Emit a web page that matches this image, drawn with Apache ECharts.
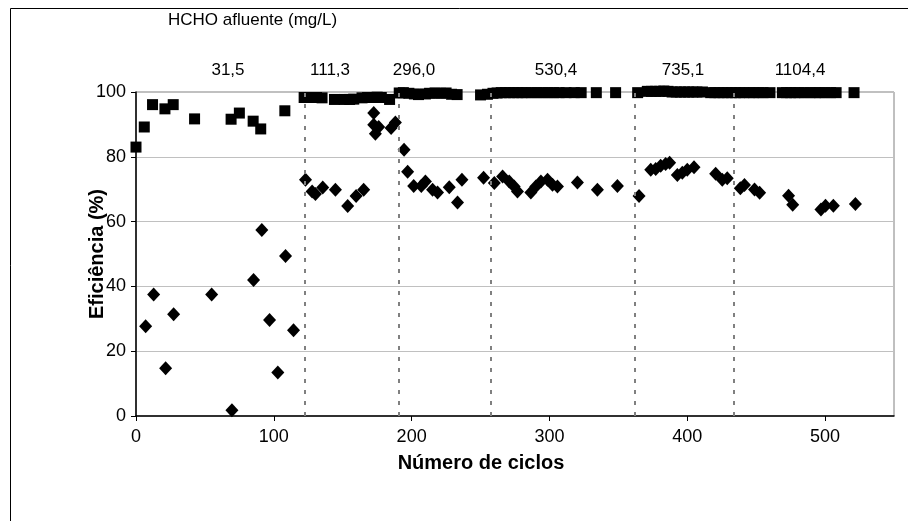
<!DOCTYPE html>
<html><head><meta charset="utf-8">
<script src="https://cdn.jsdelivr.net/npm/echarts@6/dist/echarts.min.js"></script>
<style>html,body{margin:0;padding:0;background:#fff}#c{width:908px;height:521px}</style>
</head><body><div id="c"></div><script>
// Squares (upper series)
const squareX = [0,6,12,21,27,42.5,69,75,85,90.5,108,
 122,125,128,131,135,144,151,155,158,164,168,171,175,178,184,
 191,194,198,202,205,210,213,217,221,225,229,233,250,255,259,262,265,268,271,274,277,280,283,287,291,295,299,303,307,312,318,323,
 334,348,364,371,374,377,380,383,386,389,392,395,398,401,404,407,411,
 417,420,423,426,429,432,435,438,441,445,448,452,455,460,469,472,475,478,481,485,489,493,496,500,504,508,521];
const squareY = [83,89.2,96.1,94.8,96.1,91.7,91.6,93.5,91,88.6,94.2,
 98.3,98.3,98.3,98.3,98.2,97.7,97.7,97.7,97.8,98.2,98.3,98.3,98.4,98.3,97.7,
 99.7,99.8,99.6,99.4,99.2,99.4,99.6,99.7,99.6,99.7,99.3,99.2,99.1,99.3,99.6,99.7,99.8,99.8,99.8,99.8,99.8,99.8,99.8,99.8,99.8,99.8,99.8,99.8,99.8,99.8,99.8,99.8,
 99.8,99.8,99.8,100.2,100.2,100.2,100.2,100.3,100.2,100,100,100,100,100,100,100,100,
 99.8,99.8,99.8,99.8,99.8,99.8,99.8,99.8,99.8,99.8,99.8,99.8,99.8,99.8,99.8,99.8,99.8,99.8,99.8,99.8,99.8,99.8,99.8,99.8,99.8,99.8,99.8];
// Diamonds (lower series)
const diamondX = [7,12.8,21.5,27.3,54.9,69.6,85.3,91.3,96.9,102.9,108.5,114.3,
 123,127.8,130.2,135.5,144.7,153.6,159.7,165.2,172.5,172.5,173.7,176.1,185.1,188.2,
 194.5,197.1,201.5,207,210,215.2,218.8,227.3,233.3,236.5,252.2,
 260,266,270.8,274.4,276.8,286.5,290.1,293.8,298.6,302.2,305.8,320.3,334.8,349.3,
 365,373.5,377.1,380.7,384.3,387.2,392.8,396.4,400,404.9,420.6,425.4,429,438.5,441.5,448.8,452.5,473.5,476.5,497,500.3,506,522];
const diamondY = [27.7,37.5,14.7,31.4,37.5,1.8,42,57.4,29.6,13.4,49.4,26.5,
 72.9,69.3,68.5,70.5,69.8,64.8,67.9,69.8,93.5,89.9,87.1,89.2,88.9,90.6,
 82.2,75.4,71,71,72.4,69.8,69,70.6,65.9,72.9,73.5,
 71.9,73.9,72.4,70.8,69.3,69,70.8,72.4,72.9,71.4,70.8,72.1,69.8,71,
 67.9,76,76.2,77.2,77.8,78.2,74.4,75.1,76,76.8,74.8,72.9,73.4,70.3,71.3,69.9,68.9,68,65.2,63.7,64.9,64.9,65.4];
const boundaries = [122.5, 190.4, 257.2, 361.8, 434];
const concLabels = ['31,5','111,3','296,0','530,4','735,1','1104,4'];
const xTicks = [0,100,200,300,400,500];
const yTicks = [0,20,40,60,80,100];
const xTitle = 'Número de ciclos';
const yTitle = 'Eficiência (%)';
const topTitle = 'HCHO afluente (mg/L)';

const labelCenters = [228, 330, 414, 556, 683, 800];
const FONT = '"Liberation Sans", Arial, sans-serif';

const chart = echarts.init(document.getElementById('c'), null, {renderer:'canvas'});
const zip = (a,b)=>a.map((v,i)=>[v,b[i]]);
chart.setOption({
  animation:false,
  grid:{left:136, top:92, right:14, bottom:105, show:true, borderColor:'#808080', borderWidth:1, containLabel:false},
  xAxis:{type:'value', min:0, max:550, interval:100,
    axisLine:{show:true, lineStyle:{color:'#000', width:1.5}},
    axisTick:{show:true, length:5, inside:false, lineStyle:{color:'#000'}},
    axisLabel:{show:true, margin:12, color:'#000', fontFamily:FONT, fontSize:18, showMaxLabel:false,
      formatter:v=> xTicks.indexOf(v)>=0 ? String(v) : ''},
    splitLine:{show:false}},
  yAxis:{type:'value', min:0, max:100, interval:20,
    axisLine:{show:true, lineStyle:{color:'#000', width:1.5}},
    axisTick:{show:true, length:5, lineStyle:{color:'#000'}},
    axisLabel:{show:true, margin:10, color:'#000', fontFamily:FONT, fontSize:18,
      formatter:v=> yTicks.indexOf(v)>=0 ? String(v) : ''},
    splitLine:{show:true, lineStyle:{color:'#c0c0c0', width:1}}},
  series:[
    {type:'scatter', name:'sq', data:zip(squareX,squareY), symbol:'rect', symbolSize:11,
      itemStyle:{color:'#000', opacity:1}, clip:false, z:3},
    {type:'scatter', name:'di', data:zip(diamondX,diamondY), symbol:'diamond', symbolSize:[13,14],
      itemStyle:{color:'#000', opacity:1}, clip:false, z:3,
      markLine:{silent:true, symbol:'none', label:{show:false}, animation:false,
        lineStyle:{color:'#808080', type:[4,7], width:2},
        data: boundaries.map(b=>({xAxis:b}))}}
  ],
  graphic:[
    {type:'rect', shape:{x:10.5, y:8.5, width:1000, height:1000}, style:{fill:'none', stroke:'#000', lineWidth:1}, silent:true, z:-1},
    {type:'text', left:168, top:12, style:{text:topTitle, font:'17px '+FONT, fill:'#000'}},
    ...concLabels.map((t,i)=>({type:'text', x:labelCenters[i], y:70,
      style:{text:t, font:'17px '+FONT, fill:'#000', textAlign:'center', textVerticalAlign:'middle'}})),
    {type:'text', x:481, y:463, style:{text:xTitle, font:'bold 20px '+FONT, fill:'#000', textAlign:'center', textVerticalAlign:'middle'}},
    {type:'text', x:97, y:254, rotation:Math.PI/2, style:{text:yTitle, font:'bold 20px '+FONT, fill:'#000', textAlign:'center', textVerticalAlign:'middle'}}
  ]
});
</script></body></html>
